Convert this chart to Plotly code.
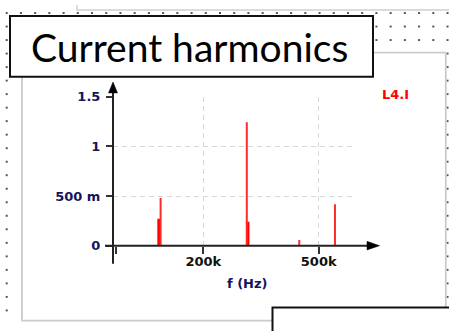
import plotly.graph_objects as go

W, H = 449, 331

# ---- data ----
harmonic_freq = [142.5e3, 282.5e3, 428.5e3, 569e3]   # Hz
harmonic_amp = [0.481, 1.243, 0.058, 0.416]          # A
side_freq = [140.8e3, 284.5e3]                       # neighbouring bins
side_amp = [0.27, 0.24]
y_tickvals = [0, 0.5, 1, 1.5]
y_ticktext = ["0", "500 m", "1", "1.5"]
x_tickvals = [200e3, 500e3]
x_ticktext = ["200k", "500k"]
x_minor_tickvals = [100e3]
title_text = "Current harmonics"
trace_label = "L4.I"
x_title = "f (Hz)"

LBL_FONT = "DejaVu Sans"
LBL_SIZE = 13


def px(x):
    return x / W


def py(y):
    return 1 - y / H


def stems(freqs, amps):
    xs, ys = [], []
    for f, a in zip(freqs, amps):
        xs += [f, f, None]
        ys += [0, a, None]
    return xs, ys


fig = go.Figure()
sx, sy = stems(side_freq, side_amp)
fig.add_trace(go.Scatter(x=sx, y=sy, mode="lines",
                         line=dict(color="#ff0000", width=3.5),
                         hoverinfo="skip", showlegend=False))
hx, hy = stems(harmonic_freq, harmonic_amp)
fig.add_trace(go.Scatter(x=hx, y=hy, mode="lines",
                         line=dict(color="#ff2a2a", width=2),
                         showlegend=False))

shapes = []


def inside(x, y, x0, y0, x1, y1):
    return x0 <= x <= x1 and y0 <= y <= y1


# schematic grid dots (outside the diagram panel and the title box)
for i in range(32):
    x = 6.7 + 14.22 * i
    for j in range(24):
        y = 6.3 + 14.16 * j
        if y > H:
            continue
        if inside(x, y, 20, 46, 446, H + 5) or inside(x, y, 8, 8, 375, 75):
            continue
        shapes.append(dict(type="rect", xref="paper", yref="paper",
                           x0=px(x - 1), x1=px(x + 1), y0=py(y - 1), y1=py(y + 1),
                           fillcolor="#505050", line=dict(width=0)))

# other element outline at top
shapes.append(dict(type="path", xref="paper", yref="paper",
                   path=f"M {px(77)} {py(-2)} L {px(77)} {py(3.2)} L {px(452)} {py(3.2)}",
                   line=dict(color="#cfcfcf", width=1.5)))
# diagram panel
shapes.append(dict(type="rect", xref="paper", yref="paper",
                   x0=px(22), x1=px(445.8), y0=py(328.5), y1=py(47.8),
                   line=dict(color="#cbcbcb", width=1.8), fillcolor="rgba(0,0,0,0)"))
# title box
shapes.append(dict(type="rect", xref="paper", yref="paper",
                   x0=px(10), x1=px(373), y0=py(73), y1=py(9.3),
                   line=dict(color="#111111", width=2), fillcolor="white"))
# bottom-right box
shapes.append(dict(type="rect", xref="paper", yref="paper",
                   x0=px(272.5), x1=px(470), y0=py(350), y1=py(314.8),
                   line=dict(color="#111111", width=2), fillcolor="white"))

# axis lines with arrows
axc = "#222222"
shapes.append(dict(type="line", xref="paper", yref="paper",
                   x0=px(113), x1=px(113), y0=py(269), y1=py(88),
                   line=dict(color=axc, width=2)))
shapes.append(dict(type="line", xref="paper", yref="paper",
                   x0=px(105), x1=px(368), y0=py(250), y1=py(250),
                   line=dict(color=axc, width=2)))
shapes.append(dict(type="path", xref="paper", yref="paper",
                   path=f"M {px(113)} {py(78.5)} L {px(117.5)} {py(90)} L {px(108.5)} {py(90)} Z",
                   fillcolor="#000000", line=dict(color="#000000", width=0.5)))
shapes.append(dict(type="path", xref="paper", yref="paper",
                   path=f"M {px(379.5)} {py(250)} L {px(367)} {py(245.5)} L {px(367)} {py(254.5)} Z",
                   fillcolor="#000000", line=dict(color="#000000", width=0.5)))

annotations = [
    dict(text=title_text, xref="paper", yref="paper", x=px(29), y=py(42),
         xanchor="left", yanchor="middle", showarrow=False,
         font=dict(family="Lato", size=39, color="#000000")),
    dict(text=trace_label, xref="paper", yref="paper", x=px(395.5), y=py(92),
         xanchor="center", yanchor="middle", showarrow=False,
         font=dict(family=LBL_FONT, size=LBL_SIZE, color="#ff0000", weight="bold")),
    dict(text=x_title, xref="paper", yref="paper", x=px(247), y=py(290),
         xanchor="center", yanchor="middle", showarrow=False,
         font=dict(family=LBL_FONT, size=LBL_SIZE, color="#14145a", weight="bold")),
]

grid = dict(showgrid=True, gridcolor="#d6d6d6", gridwidth=1, griddash="5px,4px")

fig.update_layout(
    width=W, height=H,
    margin=dict(l=0, r=0, t=0, b=0),
    paper_bgcolor="white", plot_bgcolor="rgba(0,0,0,0)",
    showlegend=False,
    shapes=shapes,
    annotations=annotations,
    xaxis=dict(type="log", range=[5 - 3 / 290, 5 + 236 / 290],
               domain=[px(113), px(352)],
               tickvals=x_tickvals, ticktext=x_ticktext,
               ticks="outside", ticklen=7, tickwidth=1.5, tickcolor="#333333",
               ticklabelstandoff=-3,
               tickfont=dict(family=LBL_FONT, size=LBL_SIZE, color="#111111", weight="bold"),
               minor=dict(tickvals=x_minor_tickvals, ticks="outside", ticklen=7,
                          tickwidth=1.5, tickcolor="#333333", showgrid=False),
               zeroline=False, showline=False, fixedrange=True, **grid),
    yaxis=dict(range=[0, 1.5], domain=[py(250), py(94)],
               tickvals=y_tickvals, ticktext=y_ticktext,
               ticks="outside", ticklen=6, tickwidth=1.5, tickcolor="#333333",
               ticklabelstandoff=3,
               tickfont=dict(family=LBL_FONT, size=LBL_SIZE, color="#14145a", weight="bold"),
               zeroline=False, showline=False, fixedrange=True, **grid),
)

fig.write_html("out.html")
